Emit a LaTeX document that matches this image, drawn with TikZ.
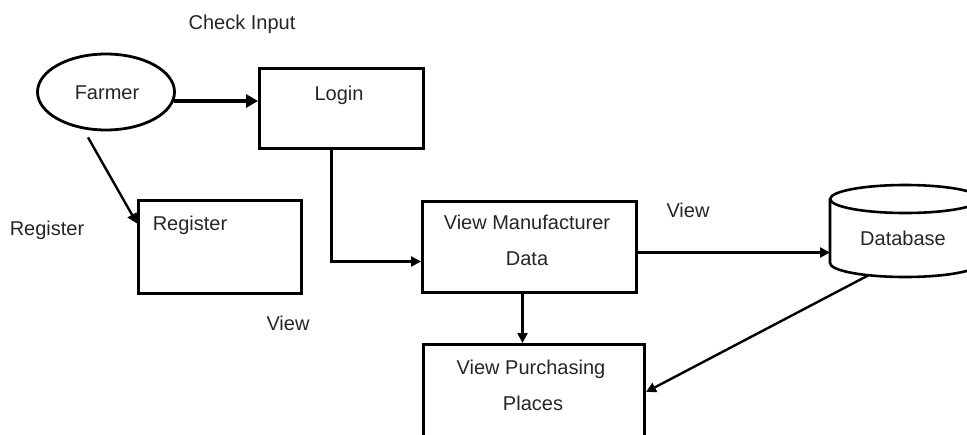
\documentclass[tikz,border=0pt]{standalone}
\usepackage{fontspec}
\setmainfont{Liberation Sans}
\usetikzlibrary{shapes.geometric,arrows.meta,calc}

\tikzset{
  lbl/.style={font=\fontsize{20}{23}\selectfont, text=black!85, inner sep=0pt},
  box/.style={draw, line width=3pt, rectangle, inner sep=0pt},
  flow/.style={draw, line width=2.4pt, -{Triangle[length=10pt,width=10pt]}},
  bigflow/.style={draw, line width=3.6pt, -{Triangle[length=12pt,width=13pt]}},
  plain/.style={draw, line width=2.6pt}
}

\begin{document}
\begin{tikzpicture}[x=1pt, y=-1pt, line join=miter]
  \useasboundingbox (0,0) rectangle (967,434);
  \clip (0,0) rectangle (967,434);
  \fill[white] (0,0) rectangle (967,434);

  % actor and process boxes
  \node[ellipse, draw, line width=2.8pt, minimum width=137pt, minimum height=76pt, inner sep=0pt] (farmer) at (106,92) {};
  \node[box, minimum width=164pt, minimum height=80pt, anchor=north west] (login) at (258,67) {};
  \node[box, minimum width=163pt, minimum height=93pt, anchor=north west] (reg) at (137,199) {};
  \node[box, minimum width=214pt, minimum height=91pt, anchor=north west] (vm) at (421,200) {};
  \node[box, minimum width=221pt, minimum height=117pt, anchor=north west] (vpp) at (422,343) {};

  % database cylinder
  \node[inner sep=0pt, minimum width=150pt, minimum height=92pt, anchor=north west] (db) at (830,185) {};
  \draw[line width=2.6pt] (db.north west) ++(0,14) -- ++(0,64)
        arc[start angle=180, end angle=360, x radius=75pt, y radius=14pt] -- ++(0,-64);
  \draw[line width=2.6pt] ($(db.north)+(0,14)$) ellipse[x radius=75pt, y radius=14pt];

  % texts
  \node[lbl] (tcheck) at (242,24) {Check Input};
  \node[lbl] (tfarmer) at (107,93) {Farmer};
  \node[lbl] (tlogin) at (339,95) {Login};
  \node[lbl] (tregin) at (190,225) {Register};
  \node[lbl] (tregout) at (47,230) {Register};
  \node[lbl] (tview1) at (288,323) {View};
  \node[lbl] (tvm1) at (527,222) {View Manufacturer};
  \node[lbl] (tvm2) at (527,259) {Data};
  \node[lbl] (tview2) at (688,210) {View};
  \node[lbl] (tdb) at (903,238) {Database};
  \node[lbl] (tvpp1) at (531,369) {View Purchasing};
  \node[lbl] (tvpp2) at (533,403) {Places};

  % connectors
  \coordinate (fa) at ($(farmer.east)+(-2,9)$);
  \draw[bigflow] (fa) -- (fa -| login.west);

  \coordinate (fb) at ($(farmer.south)+(-18,6)$);
  \draw[flow] (fb) -- ($(reg.west)+(0,-23.5)$);

  \coordinate (la) at ($(login.south)+(-10,0)$);
  \draw[flow] (la) |- ($(vm.west)+(0,14.5)$);

  \coordinate (va) at ($(vm.east)+(0,5.5)$);
  \draw[flow] (va) -- (va -| db.west);

  \coordinate (vb) at ($(vm.south)+(-7,0)$);
  \draw[flow] (vb) -- (vb |- vpp.north);

  \draw[flow] ($(db.south)+(-37,-2)$) -- ($(vpp.east)+(0,-11)$);
\end{tikzpicture}
\end{document}
